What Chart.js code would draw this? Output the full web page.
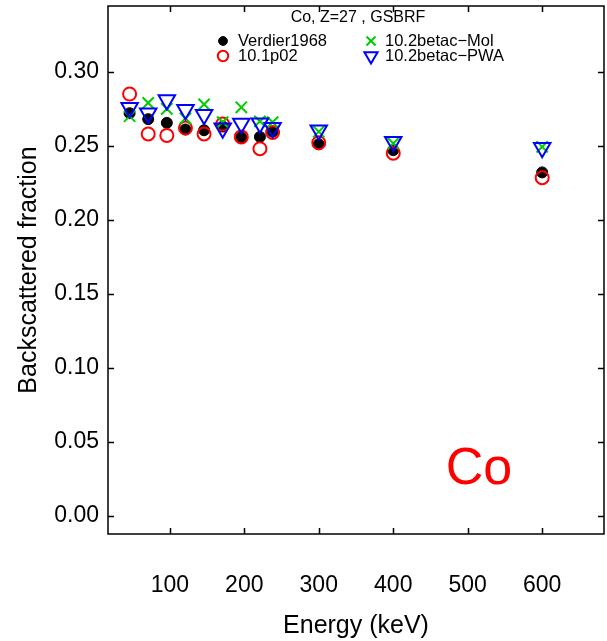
<!DOCTYPE html>
<html>
<head>
<meta charset="utf-8">
<title>Co backscattered fraction</title>
<script src="https://cdn.jsdelivr.net/npm/chart.js@4/dist/chart.umd.min.js"></script>
<style>
  html, body { margin: 0; padding: 0; background: #fff; }
  #wrap { width: 607px; height: 641px; }
</style>
</head>
<body>
<div id="wrap"><canvas id="chart" width="607" height="641"></canvas></div>
<script>
  // Energies (keV) shared by all four series
  var energy = [46, 71, 96, 121, 146, 171, 196, 221, 238, 300, 400, 600];

  // Backscattered fraction per series
  var verdier1968 = [0.272, 0.268, 0.2655, 0.261, 0.2605, 0.263, 0.2557, 0.256, 0.2595, 0.251, 0.247, 0.232];
  var g4_101p02 = [0.285, 0.258, 0.257, 0.262, 0.258, 0.2647, 0.256, 0.248, 0.259, 0.252, 0.245, 0.2284];
  var betacMol = [0.270, 0.279, 0.275, 0.2685, 0.278, 0.266, 0.276, 0.2665, 0.266, 0.2595, 0.2516, 0.2493];
  var betacPWA = [0.2757, 0.272, 0.281, 0.2743, 0.271, 0.2618, 0.2651, 0.2653, 0.2622, 0.2605, 0.2527, 0.2486];

  var seriesNames = ['Verdier1968', '10.1p02', '10.2betac\u2212Mol', '10.2betac\u2212PWA'];

  var xTicks = [100, 200, 300, 400, 500, 600];
  var yTicks = [0.00, 0.05, 0.10, 0.15, 0.20, 0.25, 0.30];

  var legendTitle = 'Co, Z=27 , GSBRF';
  var elementLabel = 'Co';
  var elementPos = { x: 515, y: 0.031 };

  var FONT = '"Liberation Sans", Arial, Helvetica, sans-serif';

  function points(vals) {
    return energy.map(function (e, i) { return { x: e, y: vals[i] }; });
  }

  var markers = [
    { pointStyle: 'circle', radius: 5.5, rotation: 0, borderWidth: 1, borderColor: '#000', backgroundColor: '#000' },
    { pointStyle: 'circle', radius: 6.5, rotation: 0, borderWidth: 2, borderColor: '#ff0000', backgroundColor: 'rgba(0,0,0,0)' },
    { pointStyle: 'crossRot', radius: 8, rotation: 0, borderWidth: 2, borderColor: '#00cd00', backgroundColor: 'rgba(0,0,0,0)' },
    { pointStyle: 'triangle', radius: 9.5, rotation: 180, borderWidth: 2, borderColor: '#0000ff', backgroundColor: 'rgba(0,0,0,0)' }
  ];
  var seriesValues = [verdier1968, g4_101p02, betacMol, betacPWA];

  var datasets = seriesValues.map(function (vals, i) {
    var m = markers[i];
    return {
      label: seriesNames[i],
      data: points(vals),
      showLine: false,
      order: 4 - i,
      pointStyle: m.pointStyle,
      pointRadius: m.radius,
      pointHoverRadius: m.radius,
      pointRotation: m.rotation,
      pointBorderWidth: m.borderWidth,
      pointBorderColor: m.borderColor,
      pointBackgroundColor: m.backgroundColor
    };
  });

  function drawMarker(ctx, m, x, y, scale) {
    ctx.save();
    ctx.strokeStyle = m.borderColor;
    ctx.fillStyle = m.backgroundColor;
    ctx.lineWidth = m.borderWidth;
    if (Chart.helpers && Chart.helpers.drawPoint) {
      Chart.helpers.drawPoint(ctx, {
        pointStyle: m.pointStyle,
        rotation: m.rotation,
        radius: m.radius * scale,
        borderWidth: m.borderWidth
      }, x, y);
    } else {
      ctx.beginPath();
      ctx.arc(x, y, m.radius * scale, 0, Math.PI * 2);
      ctx.fill();
      ctx.stroke();
    }
    ctx.restore();
  }

  // keep tick labels from pushing the plot box inwards
  function noLabelPadding(scale) {
    scale.paddingTop = 0;
    scale.paddingBottom = 0;
    scale.paddingLeft = 0;
    scale.paddingRight = 0;
  }

  // box around the plot with inward ticks on all four sides
  var framePlugin = {
    id: 'frame',
    afterDatasetsDraw: function (chart) {
      var ctx = chart.ctx, a = chart.chartArea;
      var xs = chart.scales.x, ys = chart.scales.y;
      var tl = 6;
      ctx.save();
      ctx.strokeStyle = '#000';
      ctx.lineWidth = 1.5;
      ctx.strokeRect(a.left, a.top, a.right - a.left, a.bottom - a.top);
      ctx.beginPath();
      xTicks.forEach(function (v) {
        var px = Math.round(xs.getPixelForValue(v)) + 0.5;
        ctx.moveTo(px, a.bottom); ctx.lineTo(px, a.bottom - tl);
        ctx.moveTo(px, a.top); ctx.lineTo(px, a.top + tl);
      });
      yTicks.forEach(function (v) {
        var py = Math.round(ys.getPixelForValue(v)) + 0.5;
        ctx.moveTo(a.left, py); ctx.lineTo(a.left + tl, py);
        ctx.moveTo(a.right, py); ctx.lineTo(a.right - tl, py);
      });
      ctx.stroke();
      ctx.restore();
    }
  };

  // legend block with title, two columns of entries, and the element label
  var legendPlugin = {
    id: 'legendBlock',
    afterDraw: function (chart) {
      var ctx = chart.ctx, a = chart.chartArea;
      var cx = (a.left + a.right) / 2;
      ctx.save();
      ctx.fillStyle = '#000';
      ctx.textBaseline = 'middle';
      ctx.textAlign = 'center';
      ctx.font = '16px ' + FONT;
      ctx.fillText(legendTitle, cx + 2, a.top + 12);

      var cols = [
        { mx: a.left + 115, tx: a.left + 130 },
        { mx: a.left + 263, tx: a.left + 277 }
      ];
      var rows = [a.top + 35, a.top + 50];
      // first column holds series 0,1; second holds 2,3
      ctx.textAlign = 'left';
      ctx.font = '16.5px ' + FONT;
      for (var i = 0; i < 4; i++) {
        var c = cols[Math.floor(i / 2)], r = rows[i % 2];
        drawMarker(ctx, markers[i], c.mx, r, 0.8);
        ctx.fillStyle = '#000';
        ctx.fillText(seriesNames[i], c.tx, r);
      }

      ctx.fillStyle = '#ff0000';
      ctx.font = '52px ' + FONT;
      ctx.textAlign = 'center';
      ctx.fillText(elementLabel,
        chart.scales.x.getPixelForValue(elementPos.x),
        chart.scales.y.getPixelForValue(elementPos.y));
      ctx.restore();
    }
  };

  var ctx = document.getElementById('chart').getContext('2d');
  window.coChart = new Chart(ctx, {
    type: 'scatter',
    data: { datasets: datasets },
    plugins: [framePlugin, legendPlugin],
    options: {
      responsive: false,
      animation: false,
      devicePixelRatio: 1,
      layout: { autoPadding: false, padding: { top: 6, right: 3, left: 0, bottom: 0 } },
      plugins: {
        legend: { display: false },
        tooltip: { enabled: false }
      },
      scales: {
        x: {
          type: 'linear',
          min: 17,
          max: 683,
          afterBuildTicks: function (scale) {
            scale.ticks = xTicks.map(function (v) { return { value: v }; });
          },
          afterFit: function (scale) { scale.height = 107; noLabelPadding(scale); },
          grid: { display: false, drawTicks: false },
          border: { display: false },
          ticks: {
            color: '#000',
            padding: 38,
            maxRotation: 0,
            font: { family: FONT, size: 23 },
            callback: function (v) { return String(v); }
          },
          title: {
            display: true,
            text: 'Energy (keV)',
            color: '#000',
            font: { family: FONT, size: 25 },
            padding: { top: 0, bottom: 0 }
          }
        },
        y: {
          type: 'linear',
          min: -0.0125,
          max: 0.3445,
          afterBuildTicks: function (scale) {
            scale.ticks = yTicks.map(function (v) { return { value: v }; });
          },
          afterFit: function (scale) { scale.width = 108; noLabelPadding(scale); },
          grid: { display: false, drawTicks: false },
          border: { display: false },
          ticks: {
            color: '#000',
            padding: 9,
            font: { family: FONT, size: 23 },
            callback: function (v) { return Number(v).toFixed(2); }
          },
          title: {
            display: true,
            text: 'Backscattered fraction',
            color: '#000',
            font: { family: FONT, size: 25 },
            padding: { top: 14, bottom: 0 }
          }
        }
      }
    }
  });
</script>
</body>
</html>
